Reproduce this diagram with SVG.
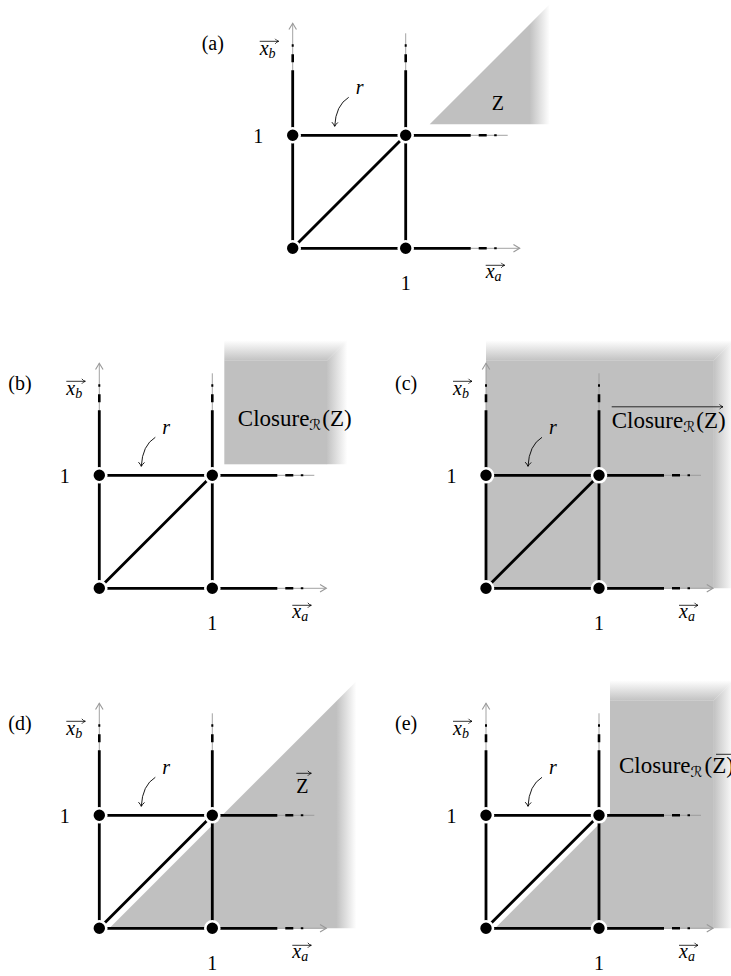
<svg xmlns="http://www.w3.org/2000/svg" width="731" height="976" viewBox="0 0 731 976">
<style>
.edge{stroke:#000;stroke-width:2.8;fill:none}
.casing{stroke:#fff;stroke-width:8;fill:none}
.axis{stroke:#999;stroke-width:0.9;fill:none}
.dash{stroke:#000;stroke-width:2.6;fill:none}
.dot{stroke:#000;stroke-width:2;fill:none}
.node{fill:#000;stroke:#fff;stroke-width:2.6}
.vec{stroke:#000;stroke-width:0.8;fill:none}
.thin{stroke:#000;stroke-width:0.9;fill:none}
.lbl{font-family:"Liberation Serif","DejaVu Serif",serif;font-size:20px;fill:#000}
.it{font-style:italic}
.big{font-size:23px}
.sub{font-size:14px}
.scr{font-size:15px;font-style:italic;font-family:"DejaVu Serif","DejaVu Sans","Liberation Serif",serif}
.gray{fill:#c0c0c0}
</style>
<defs>
<marker id="ah" markerUnits="userSpaceOnUse" markerWidth="10" markerHeight="10" viewBox="0 0 8 8" refX="6" refY="4" orient="auto"><path d="M1,1 L6,4 L1,7" fill="none" stroke="#999" stroke-width="0.9"/></marker>
<marker id="va" markerUnits="userSpaceOnUse" markerWidth="8" markerHeight="8" viewBox="0 0 8 8" refX="6" refY="4" orient="auto"><path d="M2.5,1.5 Q4,3.5 6,4 Q4,4.5 2.5,6.5" fill="none" stroke="#000" stroke-width="0.8"/></marker>
<marker id="ca" markerUnits="userSpaceOnUse" markerWidth="10" markerHeight="10" viewBox="0 0 10 10" refX="7" refY="5" orient="auto"><path d="M3,2 Q5,4 7,5 Q5,6 3,8" fill="none" stroke="#000" stroke-width="0.9"/></marker>
<linearGradient id="fr" gradientUnits="userSpaceOnUse" x1="227" y1="0" x2="248" y2="0"><stop offset="0" stop-color="#c0c0c0"/><stop offset="1" stop-color="#fff"/></linearGradient>
<linearGradient id="ft" gradientUnits="userSpaceOnUse" x1="0" y1="-227" x2="0" y2="-248"><stop offset="0" stop-color="#c0c0c0"/><stop offset="1" stop-color="#fff"/></linearGradient>
<linearGradient id="fra" gradientUnits="userSpaceOnUse" x1="237" y1="0" x2="257" y2="0"><stop offset="0" stop-color="#c0c0c0"/><stop offset="1" stop-color="#fff"/></linearGradient>
</defs>

<!-- Panel (a) -->
<g id="panel-a" transform="translate(292.7,248.3)">
 <g id="a-region"><polygon points="137,-124 257,-244 257,-124" fill="url(#fra)"/></g>
 <g id="a-connectors">
  <line class="axis" x1="0" y1="0" x2="0" y2="-225" marker-end="url(#ah)"/>
  <line class="axis" x1="0" y1="0" x2="227" y2="0" marker-end="url(#ah)"/>
  <line class="axis" x1="113" y1="0" x2="113" y2="-215"/>
  <line class="axis" x1="0" y1="-113" x2="215" y2="-113"/>
  <path class="edge" d="M0,0V-178M113,0V-178M0,0H178M0,-113H178"/>
  <path class="dash" d="M0,-186V-194M113,-186V-194M186,0H194M186,-113H194"/>
  <path class="dot" d="M0,-201.5V-204M113,-201.5V-204M201.5,0H204M201.5,-113H204"/>
  <line class="edge" x1="0" y1="0" x2="113" y2="-113"/>
  <path class="thin" d="M56,-151 Q43,-143 42,-122" marker-end="url(#ca)"/>
 </g>
 <g id="a-n00"><circle class="node" cx="0" cy="0" r="7"/></g>
 <g id="a-n10"><circle class="node" cx="113" cy="0" r="7"/></g>
 <g id="a-n01"><circle class="node" cx="0" cy="-113" r="7"/></g>
 <g id="a-n11"><circle class="node" cx="113" cy="-113" r="7"/></g>
 <g id="a-labels">
  <text class="lbl" x="-91" y="-198.5">(a)</text>
  <text class="lbl it" x="-33" y="-193.5">x<tspan class="sub" dy="3">b</tspan></text>
  <path class="vec" d="M-33,-207H-14" marker-end="url(#va)"/>
  <text class="lbl" x="-34.5" y="-105" text-anchor="middle">1</text>
  <text class="lbl" x="113" y="42" text-anchor="middle">1</text>
  <text class="lbl it" x="193" y="30">x<tspan class="sub" dy="3">a</tspan></text>
  <path class="vec" d="M193,17H212" marker-end="url(#va)"/>
  <text class="lbl it" x="63" y="-154" font-size="19">r</text>
  <text class="lbl" x="199" y="-138">Z</text>
 </g>
</g>

<!-- Panel (b) -->
<g id="panel-b" transform="translate(99.3,588.3)">
 <g id="b-region">
  <polygon points="227.5,-124 227.5,-227.5 248,-248 248,-124" fill="url(#fr)"/>
  <polygon points="125,-227.5 227.5,-227.5 248,-248 125,-248" fill="url(#ft)"/>
  <rect class="gray" x="125" y="-227.6" width="102.8" height="103.6"/>
 </g>
 <g id="b-connectors">
  <line class="axis" x1="0" y1="0" x2="0" y2="-225" marker-end="url(#ah)"/>
  <line class="axis" x1="0" y1="0" x2="227" y2="0" marker-end="url(#ah)"/>
  <line class="axis" x1="113" y1="0" x2="113" y2="-215"/>
  <line class="axis" x1="0" y1="-113" x2="215" y2="-113"/>
  <path class="edge" d="M0,0V-178M113,0V-178M0,0H178M0,-113H178"/>
  <path class="dash" d="M0,-186V-194M113,-186V-194M186,0H194M186,-113H194"/>
  <path class="dot" d="M0,-201.5V-204M113,-201.5V-204M201.5,0H204M201.5,-113H204"/>
  <line class="edge" x1="0" y1="0" x2="113" y2="-113"/>
  <path class="thin" d="M56,-151 Q43,-143 42,-122" marker-end="url(#ca)"/>
 </g>
 <g id="b-n00"><circle class="node" cx="0" cy="0" r="7"/></g>
 <g id="b-n10"><circle class="node" cx="113" cy="0" r="7"/></g>
 <g id="b-n01"><circle class="node" cx="0" cy="-113" r="7"/></g>
 <g id="b-n11"><circle class="node" cx="113" cy="-113" r="7"/></g>
 <g id="b-labels">
  <text class="lbl" x="-91" y="-198.5">(b)</text>
  <text class="lbl it" x="-33" y="-193.5">x<tspan class="sub" dy="3">b</tspan></text>
  <path class="vec" d="M-33,-207H-14" marker-end="url(#va)"/>
  <text class="lbl" x="-34.5" y="-105" text-anchor="middle">1</text>
  <text class="lbl" x="113" y="42" text-anchor="middle">1</text>
  <text class="lbl it" x="193" y="30">x<tspan class="sub" dy="3">a</tspan></text>
  <path class="vec" d="M193,17H212" marker-end="url(#va)"/>
  <text class="lbl it" x="63" y="-154" font-size="19">r</text>
  <text class="lbl big" x="138.5" y="-162">Closure<tspan class="scr" dy="4">ℛ</tspan><tspan dx="1" dy="-4">(Z)</tspan></text>
 </g>
</g>

<!-- Panel (c) -->
<g id="panel-c" transform="translate(486,588.3)">
 <g id="c-region">
  <polygon points="227.5,0 227.5,-227.5 248,-248 248,0" fill="url(#fr)"/>
  <polygon points="0,-227.5 227.5,-227.5 248,-248 0,-248" fill="url(#ft)"/>
  <rect class="gray" x="0" y="-227.6" width="227.8" height="227.6"/>
 </g>
 <g id="c-connectors">
  <line class="axis" x1="0" y1="0" x2="0" y2="-225" marker-end="url(#ah)"/>
  <line class="axis" x1="0" y1="0" x2="227" y2="0" marker-end="url(#ah)"/>
  <line class="axis" x1="113" y1="0" x2="113" y2="-215"/>
  <line class="axis" x1="0" y1="-113" x2="215" y2="-113"/>
  <path class="edge" d="M0,0V-178M113,0V-178M0,0H178M0,-113H178"/>
  <path class="dash" d="M0,-186V-194M113,-186V-194M186,0H194M186,-113H194"/>
  <path class="dot" d="M0,-201.5V-204M113,-201.5V-204M201.5,0H204M201.5,-113H204"/>
  <line class="edge" x1="0" y1="0" x2="113" y2="-113"/>
  <path class="thin" d="M56,-151 Q43,-143 42,-122" marker-end="url(#ca)"/>
 </g>
 <g id="c-n00"><circle class="node" cx="0" cy="0" r="7"/></g>
 <g id="c-n10"><circle class="node" cx="113" cy="0" r="7"/></g>
 <g id="c-n01"><circle class="node" cx="0" cy="-113" r="7"/></g>
 <g id="c-n11"><circle class="node" cx="113" cy="-113" r="7"/></g>
 <g id="c-labels">
  <text class="lbl" x="-91" y="-198.5">(c)</text>
  <text class="lbl it" x="-33" y="-193.5">x<tspan class="sub" dy="3">b</tspan></text>
  <path class="vec" d="M-33,-207H-14" marker-end="url(#va)"/>
  <text class="lbl" x="-34.5" y="-105" text-anchor="middle">1</text>
  <text class="lbl" x="113" y="42" text-anchor="middle">1</text>
  <text class="lbl it" x="193" y="30">x<tspan class="sub" dy="3">a</tspan></text>
  <path class="vec" d="M193,17H212" marker-end="url(#va)"/>
  <text class="lbl it" x="63" y="-154" font-size="19">r</text>
  <text class="lbl big" x="125.7" y="-160">Closure<tspan class="scr" dy="4">ℛ</tspan><tspan dx="1" dy="-4">(Z)</tspan></text>
  <path class="vec" d="M125.7,-181.5H237" marker-end="url(#va)"/>
 </g>
</g>

<!-- Panel (d) -->
<g id="panel-d" transform="translate(99.3,928.3)">
 <g id="d-region"><polygon points="10,0 258,-248 258,0" fill="url(#fra)"/></g>
 <g id="d-connectors">
  <line class="axis" x1="0" y1="0" x2="0" y2="-225" marker-end="url(#ah)"/>
  <line class="axis" x1="0" y1="0" x2="227" y2="0" marker-end="url(#ah)"/>
  <line class="axis" x1="113" y1="0" x2="113" y2="-215"/>
  <line class="axis" x1="0" y1="-113" x2="215" y2="-113"/>
  <path class="edge" d="M0,0V-178M113,0V-178M0,0H178M0,-113H178"/>
  <path class="dash" d="M0,-186V-194M113,-186V-194M186,0H194M186,-113H194"/>
  <path class="dot" d="M0,-201.5V-204M113,-201.5V-204M201.5,0H204M201.5,-113H204"/>
  <line class="casing" x1="0" y1="0" x2="113" y2="-113"/>
  <line class="edge" x1="0" y1="0" x2="113" y2="-113"/>
  <path class="thin" d="M56,-151 Q43,-143 42,-122" marker-end="url(#ca)"/>
 </g>
 <g id="d-n00"><circle class="node" cx="0" cy="0" r="7"/></g>
 <g id="d-n10"><circle class="node" cx="113" cy="0" r="7"/></g>
 <g id="d-n01"><circle class="node" cx="0" cy="-113" r="7"/></g>
 <g id="d-n11"><circle class="node" cx="113" cy="-113" r="7"/></g>
 <g id="d-labels">
  <text class="lbl" x="-91" y="-198.5">(d)</text>
  <text class="lbl it" x="-33" y="-193.5">x<tspan class="sub" dy="3">b</tspan></text>
  <path class="vec" d="M-33,-207H-14" marker-end="url(#va)"/>
  <text class="lbl" x="-34.5" y="-105" text-anchor="middle">1</text>
  <text class="lbl" x="113" y="42" text-anchor="middle">1</text>
  <text class="lbl it" x="193" y="30">x<tspan class="sub" dy="3">a</tspan></text>
  <path class="vec" d="M193,17H212" marker-end="url(#va)"/>
  <text class="lbl it" x="63" y="-154" font-size="19">r</text>
  <text class="lbl" x="197" y="-135" font-size="22">Z</text>
  <path class="vec" d="M197,-155H212" marker-end="url(#va)"/>
 </g>
</g>

<!-- Panel (e) -->
<g id="panel-e" transform="translate(486,928.3)">
 <g id="e-region">
  <polygon points="227.5,0 227.5,-227.5 248,-248 248,0" fill="url(#fr)"/>
  <polygon points="124,-227.5 227.5,-227.5 248,-248 124,-248" fill="url(#ft)"/>
  <polygon class="gray" points="9,0 124,-115 124,-227.6 227.8,-227.6 227.8,0"/>
 </g>
 <g id="e-connectors">
  <line class="axis" x1="0" y1="0" x2="0" y2="-225" marker-end="url(#ah)"/>
  <line class="axis" x1="0" y1="0" x2="227" y2="0" marker-end="url(#ah)"/>
  <line class="axis" x1="113" y1="0" x2="113" y2="-215"/>
  <line class="axis" x1="0" y1="-113" x2="215" y2="-113"/>
  <path class="edge" d="M0,0V-178M113,0V-178M0,0H178M0,-113H178"/>
  <path class="dash" d="M0,-186V-194M113,-186V-194M186,0H194M186,-113H194"/>
  <path class="dot" d="M0,-201.5V-204M113,-201.5V-204M201.5,0H204M201.5,-113H204"/>
  <line class="casing" x1="0" y1="0" x2="113" y2="-113"/>
  <line class="edge" x1="0" y1="0" x2="113" y2="-113"/>
  <path class="thin" d="M56,-151 Q43,-143 42,-122" marker-end="url(#ca)"/>
 </g>
 <g id="e-n00"><circle class="node" cx="0" cy="0" r="7"/></g>
 <g id="e-n10"><circle class="node" cx="113" cy="0" r="7"/></g>
 <g id="e-n01"><circle class="node" cx="0" cy="-113" r="7"/></g>
 <g id="e-n11"><circle class="node" cx="113" cy="-113" r="7"/></g>
 <g id="e-labels">
  <text class="lbl" x="-91" y="-198.5">(e)</text>
  <text class="lbl it" x="-33" y="-193.5">x<tspan class="sub" dy="3">b</tspan></text>
  <path class="vec" d="M-33,-207H-14" marker-end="url(#va)"/>
  <text class="lbl" x="-34.5" y="-105" text-anchor="middle">1</text>
  <text class="lbl" x="113" y="42" text-anchor="middle">1</text>
  <text class="lbl it" x="193" y="30">x<tspan class="sub" dy="3">a</tspan></text>
  <path class="vec" d="M193,17H212" marker-end="url(#va)"/>
  <text class="lbl it" x="63" y="-154" font-size="19">r</text>
  <text class="lbl big" x="133" y="-155">Closure<tspan class="scr" dy="4">ℛ</tspan><tspan dx="2" dy="-4">(Z)</tspan></text>
  <path class="vec" d="M230,-174H256" marker-end="url(#va)"/>
 </g>
</g>
</svg>
